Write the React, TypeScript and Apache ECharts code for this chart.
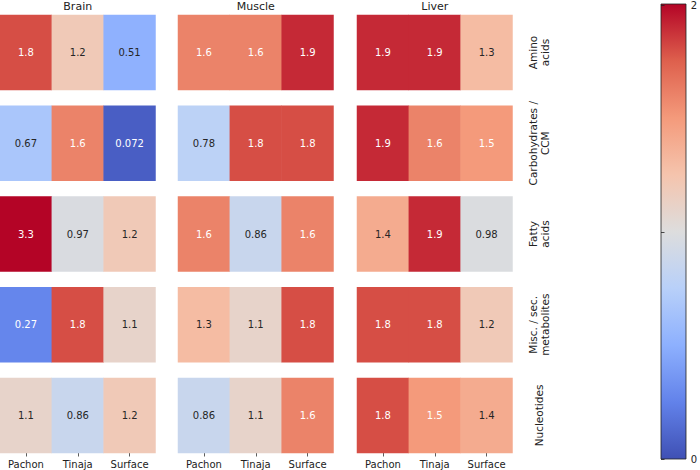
import React, { useEffect, useRef } from "react";
import * as echarts from "echarts";

const tissues = ["Brain", "Muscle", "Liver"];
const groups = ["Pachon", "Tinaja", "Surface"];
const classes = [
  "Amino\nacids",
  "Carbohydrates /\nCCM",
  "Fatty\nacids",
  "Misc. / sec.\nmetabolites",
  "Nucleotides",
];
const brain = [
  [1.8, 1.2, 0.51],
  [0.67, 1.6, 0.072],
  [3.3, 0.97, 1.2],
  [0.27, 1.8, 1.1],
  [1.1, 0.86, 1.2],
];
const muscle = [
  [1.6, 1.6, 1.9],
  [0.78, 1.8, 1.8],
  [1.6, 0.86, 1.6],
  [1.3, 1.1, 1.8],
  [0.86, 1.1, 1.6],
];
const liver = [
  [1.9, 1.9, 1.3],
  [1.9, 1.6, 1.5],
  [1.4, 1.9, 0.98],
  [1.8, 1.8, 1.2],
  [1.8, 1.5, 1.4],
];
const colorbarTicks = [0, 1, 2];
const coolwarm = [
  "#3f50b4",
  "#6282ea",
  "#8db0fe",
  "#b8d0f9",
  "#dddddd",
  "#f5c4ad",
  "#f49a7b",
  "#de604d",
  "#b40426",
];

const FONT = "DejaVu Sans";
const panelLeft = [0, 178, 357];
const panelWidth = 155.5;
const rowTop0 = 15;
const rowPitch = 90.75;
const rowHeight = 75;
const vMin = colorbarTicks[0];
const vMax = colorbarTicks[colorbarTicks.length - 1];

export default function App() {
  const ref = useRef<HTMLDivElement>(null);
  useEffect(() => {
    if (!ref.current) return;
    const chart = echarts.init(ref.current, null, { renderer: "svg" });
    const tables = [brain, muscle, liver];
    const grids: any[] = [];
    const xAxes: any[] = [];
    const yAxes: any[] = [];
    const series: any[] = [];
    tables.forEach((tab, t) => {
      tab.forEach((row, r) => {
        const idx = grids.length;
        const isBottom = r === tab.length - 1;
        grids.push({
          left: panelLeft[t],
          top: rowTop0 + r * rowPitch,
          width: panelWidth,
          height: rowHeight,
        });
        xAxes.push({
          type: "category",
          gridIndex: idx,
          data: groups,
          axisLine: { show: false },
          axisTick: {
            show: isBottom,
            alignWithLabel: true,
            length: 3.5,
            lineStyle: { color: "#333", width: 0.8 },
          },
          axisLabel: {
            show: isBottom,
            fontFamily: FONT,
            fontSize: 10,
            color: "#222",
            margin: 6,
          },
          splitLine: { show: false },
        });
        yAxes.push({
          type: "category",
          gridIndex: idx,
          data: [classes[r]],
          show: false,
        });
        series.push({
          type: "heatmap",
          xAxisIndex: idx,
          yAxisIndex: idx,
          data: row.map((v, c) => ({
            value: [c, 0, v, Math.min(Math.max(v, vMin), vMax)],
            label: {
              color: v >= 1.5 || v <= 0.3 ? "#ffffff" : "#262626",
            },
          })),
          label: {
            show: true,
            fontFamily: FONT,
            fontSize: 10,
            formatter: (p: any) => String(p.value[2]),
          },
          itemStyle: { borderWidth: 0 },
          emphasis: { disabled: true },
        });
      });
    });

    // colorbar axis grid
    const cbIdx = grids.length;
    grids.push({ left: 661, top: 4, width: 25, height: 455 });
    xAxes.push({ type: "value", gridIndex: cbIdx, show: false, min: 0, max: 1 });
    yAxes.push({
      type: "value",
      gridIndex: cbIdx,
      position: "right",
      min: vMin,
      max: vMax,
      interval: 1,
      axisLine: { show: false },
      axisTick: { show: true, length: 3.5, lineStyle: { color: "#222", width: 0.8 } },
      axisLabel: {
        fontFamily: FONT,
        fontSize: 10,
        color: "#222",
        margin: 7,
        formatter: (v: number) => (v === 1 ? "" : String(v)),
      },
      splitLine: { show: false },
    });

    const graphics: any[] = [];
    tissues.forEach((name, t) => {
      graphics.push({
        type: "text",
        x: panelLeft[t] + panelWidth / 2,
        y: 6,
        style: {
          text: name,
          fontFamily: FONT,
          fontSize: 11,
          fill: "#222",
          textAlign: "center",
          textVerticalAlign: "middle",
        },
      });
    });
    classes.forEach((name, r) => {
      graphics.push({
        type: "text",
        x: 539,
        y: rowTop0 + r * rowPitch + rowHeight / 2,
        rotation: Math.PI / 2,
        style: {
          text: name,
          fontFamily: FONT,
          fontSize: 10.5,
          lineHeight: 12,
          fill: "#222",
          textAlign: "center",
          textVerticalAlign: "middle",
        },
      });
    });
    const stops = coolwarm
      .slice()
      .reverse()
      .map((c, i, arr) => ({ offset: i / (arr.length - 1), color: c }));
    graphics.push({
      type: "rect",
      shape: { x: 661, y: 4, width: 25, height: 455 },
      z: -1,
      style: {
        fill: new echarts.graphic.LinearGradient(0, 0, 0, 1, stops),
        stroke: "#222",
        lineWidth: 0.8,
      },
    });

    chart.setOption({
      animation: false,
      backgroundColor: "#ffffff",
      grid: grids,
      xAxis: xAxes,
      yAxis: yAxes,
      visualMap: {
        type: "continuous",
        show: false,
        min: vMin,
        max: vMax,
        dimension: 3,
        seriesIndex: series.map((_, i) => i),
        inRange: { color: coolwarm },
      },
      series,
      graphic: graphics,
    });
    return () => chart.dispose();
  }, []);
  return (
    <div
      ref={ref}
      style={{ position: "fixed", left: 0, top: 0, width: 700, height: 470 }}
    />
  );
}
